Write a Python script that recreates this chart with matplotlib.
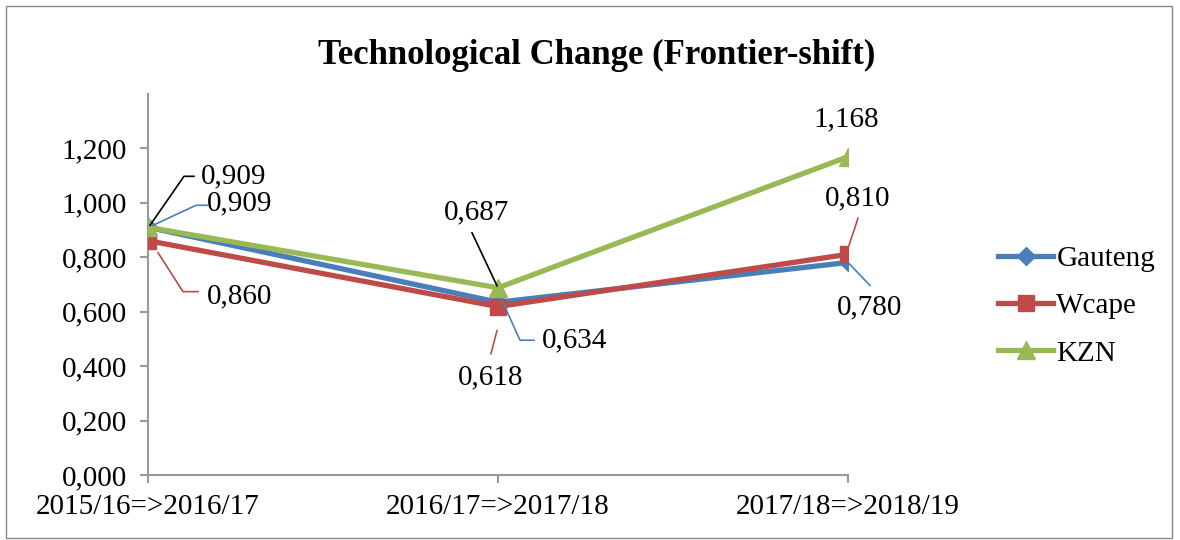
import matplotlib
matplotlib.use('Agg')
import matplotlib.pyplot as plt
from matplotlib.patches import Rectangle

plt.rcParams['font.family'] = ['Liberation Serif', 'DejaVu Serif']

periods = ['2015/16=>2016/17', '2016/17=>2017/18', '2017/18=>2018/19']
gauteng = [0.909, 0.634, 0.780]
wcape = [0.860, 0.618, 0.810]
kzn = [0.909, 0.687, 1.168]
yticks = [0.0, 0.2, 0.4, 0.6, 0.8, 1.0, 1.2]


def fmt(v):
    # comma decimal separator, as in the source chart
    return f'{v:.3f}'.replace('.', ',')


fig = plt.figure(figsize=(11.8, 5.4), dpi=100)
ax = fig.add_axes([148 / 1180, 1 - 475 / 540, 700 / 1180, (475 - 93.5) / 540])

x = list(range(len(periods)))
ax.plot(x, gauteng, color='#4a7ebb', lw=3.8, marker='D', ms=9, label='Gauteng', zorder=3)
ax.plot(x, wcape, color='#be4b48', lw=3.8, marker='s', ms=12, label='Wcape', zorder=4)
ax.plot(x, kzn, color='#98b954', lw=3.8, marker='^', ms=13, label='KZN', zorder=5)

ax.set_xlim(0, 2)
ax.set_ylim(0, 1.4)
ax.set_yticks(yticks)
ax.set_yticklabels(['1,200' if t == 1.2 else '1,000' if t == 1.0 else fmt(t) for t in yticks])
ax.set_xticks(x)
ax.set_xticklabels(periods)
ax.tick_params(labelsize=21, colors='black', length=6, width=1.5)
ax.tick_params(axis='both', color='#999999')
ax.tick_params(axis='y', pad=9)
ax.tick_params(axis='x', pad=8)
for s in ['top', 'right']:
    ax.spines[s].set_visible(False)
for s in ['left', 'bottom']:
    ax.spines[s].set_color('#999999')
    ax.spines[s].set_linewidth(1.5)


def label(xi, yi, val, off, leader, color):
    # off, leader: pixel offsets (right, down) from the data point
    px, py = ax.transData.transform((xi, yi))
    ax.text(*ax.transData.inverted().transform((px + off[0], py - off[1])), val,
            ha='center', va='center', fontsize=21, zorder=6)
    if leader:
        pts = [ax.transData.inverted().transform((px + dx, py - dy)) for dx, dy in leader]
        ax.plot([p[0] for p in pts], [p[1] for p in pts], color=color, lw=1.2,
                clip_on=False, zorder=6)


# 2015/16 -> 2016/17
label(0, kzn[0], fmt(kzn[0]), (86, -51), [(2, -2), (36, -51), (46, -51)], 'black')
label(0, gauteng[0], fmt(gauteng[0]), (92, -24), [(5, -2), (48, -22), (60, -22)], '#4a7ebb')
label(0, wcape[0], fmt(wcape[0]), (92, 56), [(10, 12), (35, 51), (50, 51)], '#be4b48')
# 2016/17 -> 2017/18
label(1, kzn[1], fmt(kzn[1]), (-21, -75), [(-1, -2), (-26, -55)], 'black')
label(1, gauteng[1], fmt(gauteng[1]), (77, 38), [(4, -2), (22, 38), (36, 38)], '#4a7ebb')
label(1, wcape[1], fmt(wcape[1]), (-7, 71), [(-1, 24), (-7, 47)], '#be4b48')
# 2017/18 -> 2018/19
label(2, kzn[2], fmt(kzn[2]), (-2, -37), None, None)
label(2, wcape[2], fmt(wcape[2]), (10, -56), [(0, -6), (10, -36)], '#be4b48')
label(2, gauteng[2], fmt(gauteng[2]), (22, 45), [(0, 0), (22, 23)], '#4a7ebb')

ax.set_title('Technological Change (Frontier-shift)', fontsize=25, fontweight='bold',
             x=(597 - 148) / 700, y=1.0, pad=21)

fig.legend(loc='center left', bbox_to_anchor=(998 / 1180, 1 - 306 / 540), frameon=False,
           fontsize=21, handlelength=1.9, handletextpad=0.1, labelspacing=0.72,
           borderpad=0, borderaxespad=0)

fig.add_artist(Rectangle((6 / 1180, 2 / 540), 1166 / 1180, 532 / 540, transform=fig.transFigure,
                         fill=False, edgecolor='#888888', lw=1))

fig.savefig('out.png', dpi=100)
